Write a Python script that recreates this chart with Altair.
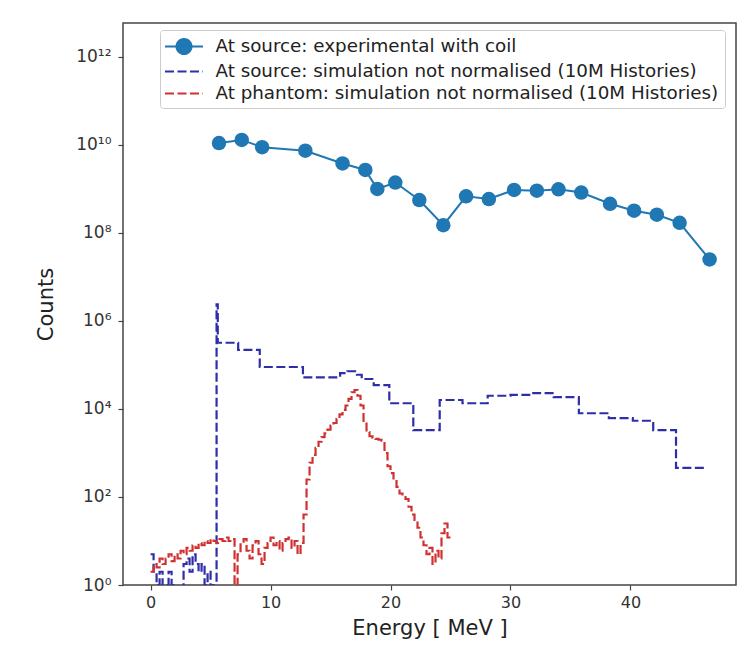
import json
import altair as alt
import pandas as pd

# ---------------- data ----------------
SERIES = [
    "At source: experimental with coil",
    "\u00a0At source: simulation not normalised (10M Histories)",
    "At phantom: simulation not normalised (10M Histories)",
]
COLORS = ["#1f77b4", "#2e2ea8", "#d03030"]

# experimental points (energy in MeV, counts)
exp_energy = [5.7, 7.6, 9.3, 12.9, 16.0, 17.9, 18.9, 20.4, 22.4, 24.4, 26.3,
              28.2, 30.3, 32.2, 34.0, 35.9, 38.3, 40.3, 42.2, 44.1, 46.6]
exp_counts = [1.1e10, 1.3e10, 8.9e9, 7.4e9, 3.8e9, 2.7e9, 1.0e9, 1.4e9, 5.6e8,
              1.5e8, 6.8e8, 5.9e8, 9.5e8, 9.1e8, 9.8e8, 8.3e8, 4.6e8, 3.2e8,
              2.6e8, 1.7e8, 2.5e7]

# simulation at source: histogram (left bin edges, counts), last edge closes
src_edges = [0.0, 0.25, 0.5, 0.75, 1.0, 1.25, 1.5, 1.75, 2.0, 2.25, 2.5, 2.75,
             3.0, 3.25, 3.5, 3.75, 4.0, 4.25, 4.5, 4.75, 5.0, 5.25,
             5.5, 5.6, 7.3, 9.1, 12.7, 15.8, 16.4, 17.2, 17.6, 18.6, 19.9,
             21.9, 24.1, 26.0, 28.1, 30.0, 31.9, 33.6, 35.7, 38.2, 40.2, 41.9,
             43.8, 46.3]
src_counts = [5, 2, 1, 2, 0.5, 1, 2, 1, 0.5, 0.5, 0.5, 3,
              4, 2, 5, 3, 2, 3, 1, 2, 1, 0.5,
              2.4e6, 3.2e5, 2.2e5, 9.0e4, 5.2e4, 6.5e4, 7.2e4, 6.0e4, 4.8e4,
              3.5e4, 1.35e4, 3.3e3, 1.6e4, 1.35e4, 2.0e4, 2.1e4, 2.3e4, 1.85e4,
              8.0e3, 6.2e3, 5.4e3, 3.3e3, 4.6e2, 4.6e2]

# simulation at phantom: histogram with 0.25 MeV bins starting at 0
ph_bin_width = 0.25
ph_counts = [2, 3, 2.5, 4, 3, 4, 5, 3.5, 5, 4, 6, 5, 7, 6, 8, 7, 9, 8, 10, 9,
             11, 10, 9, 11, 10, 12, 10, 11,
             0.5,
             5, 9, 11, 6, 4, 8, 10, 5, 3, 7, 9, 12, 8, 10, 6, 9, 11, 12, 7, 10,
             5, 9,
             40, 250, 600, 900, 1300, 1800, 2300, 2800, 3400, 4200, 4800, 6000,
             7500, 9500, 12000, 17000, 24000, 27000, 20000, 12000, 5000, 3000,
             2400, 2200, 2100, 2000, 1900, 1000, 500, 350, 250, 170, 120, 100,
             90, 60, 40, 30, 20, 12, 8, 5, 7, 3, 6, 4, 15, 25, 12]

x_ticks = [0, 10, 20, 30, 40]
y_ticks = [1, 1e2, 1e4, 1e6, 1e8, 1e10, 1e12]
y_tick_labels = ["10⁰", "10²", "10⁴", "10⁶", "10⁸", "10¹⁰", "10¹²"]

# ---------------- tables ----------------
exp_df = pd.DataFrame({"Energy": exp_energy, "Counts": exp_counts, "series": SERIES[0]})
src_df = pd.DataFrame({"Energy": src_edges, "Counts": src_counts, "series": SERIES[1]})
ph_edges = [i * ph_bin_width for i in range(len(ph_counts) + 1)]
ph_df = pd.DataFrame({"Energy": ph_edges, "Counts": ph_counts + [ph_counts[-1]],
                      "series": SERIES[2]})
all_df = pd.concat([exp_df, src_df, ph_df], ignore_index=True)

FONT = "DejaVu Sans"
DASH = [9, 3.5]

x_enc = alt.X("Energy:Q",
              scale=alt.Scale(domain=[-2.3, 48.8], nice=False, zero=False),
              axis=alt.Axis(values=x_ticks, title="Energy [ MeV ]", titleY=43,
                            titleBaseline="middle", labelPadding=4))
label_expr = json.dumps(y_tick_labels, ensure_ascii=False) + "[round(log(datum.value)/LN10/2)]"
y_enc = alt.Y("Counts:Q",
              scale=alt.Scale(type="log", domain=[1, 5.9e12], nice=False),
              axis=alt.Axis(values=y_ticks, labelExpr=label_expr, title="Counts",
                            titleX=-77, titleY=281, titleBaseline="middle",
                            titleAlign="center", labelPadding=7, labelFontSize=17))

exp_line = alt.Chart(exp_df).mark_line(color=COLORS[0], strokeWidth=2, clip=True).encode(
    x=x_enc, y=y_enc)
exp_pts = alt.Chart(exp_df).mark_circle(color=COLORS[0], size=210, opacity=1, clip=True).encode(
    x=x_enc, y=y_enc)
src_line = alt.Chart(src_df).mark_line(color=COLORS[1], strokeWidth=2.2, strokeDash=DASH,
                                       interpolate="step-after", clip=True).encode(
    x=x_enc, y=y_enc)
ph_line = alt.Chart(ph_df).mark_line(color=COLORS[2], strokeWidth=2.2, strokeDash=DASH,
                                     interpolate="step-after", clip=True).encode(
    x=x_enc, y=y_enc)

path_exp = "M-2,0L2,0M0.8,0A0.8,0.8,0,1,1,-0.8,0A0.8,0.8,0,1,1,0.8,0Z"
path_line = "M-2,0L2,0"
leg = alt.Legend(title=None)
legend_layer = alt.Chart(all_df).mark_point(opacity=0, filled=False, strokeWidth=1.8).encode(
    x=x_enc, y=y_enc,
    color=alt.Color("series:N", scale=alt.Scale(domain=SERIES, range=COLORS), legend=leg),
    fill=alt.Fill("series:N", scale=alt.Scale(domain=SERIES,
                                              range=[COLORS[0], "transparent", "transparent"]),
                  legend=leg),
    shape=alt.Shape("series:N", scale=alt.Scale(domain=SERIES,
                                                range=[path_exp, path_line, path_line]),
                    legend=leg),
    strokeDash=alt.StrokeDash("series:N", scale=alt.Scale(domain=SERIES,
                                                          range=[[1, 0], DASH, DASH]),
                              legend=leg),
)

chart = alt.layer(exp_line, exp_pts, src_line, ph_line, legend_layer).properties(
    width=613, height=562,
    padding={"left": 123, "top": 23, "right": 2, "bottom": 64},
    autosize=alt.AutoSizeParams(type="none"),
    background="white",
).configure_view(
    stroke="#444444", strokeWidth=1.5
).configure_axis(
    labelFont=FONT, titleFont=FONT, labelFontSize=16, titleFontSize=21,
    labelColor="#333333", titleColor="#222222", titleFontWeight="normal",
    tickColor="#444444", tickSize=5, tickWidth=1.2, grid=False, domain=False,
).configure_legend(
    orient="none", legendX=37, legendY=7, padding=6,
    symbolSize=361, symbolStrokeWidth=1.8, symbolOffset=7.5, labelOffset=21,
    labelFont=FONT, labelFontSize=18.3, labelColor="#222222", labelLimit=700,
    fillColor="rgba(255,255,255,0.85)", strokeColor="#cccccc", cornerRadius=3,
    rowPadding=3, symbolOpacity=1,
)

chart.save("out.html", embed_options={"renderer": "svg", "actions": False})
